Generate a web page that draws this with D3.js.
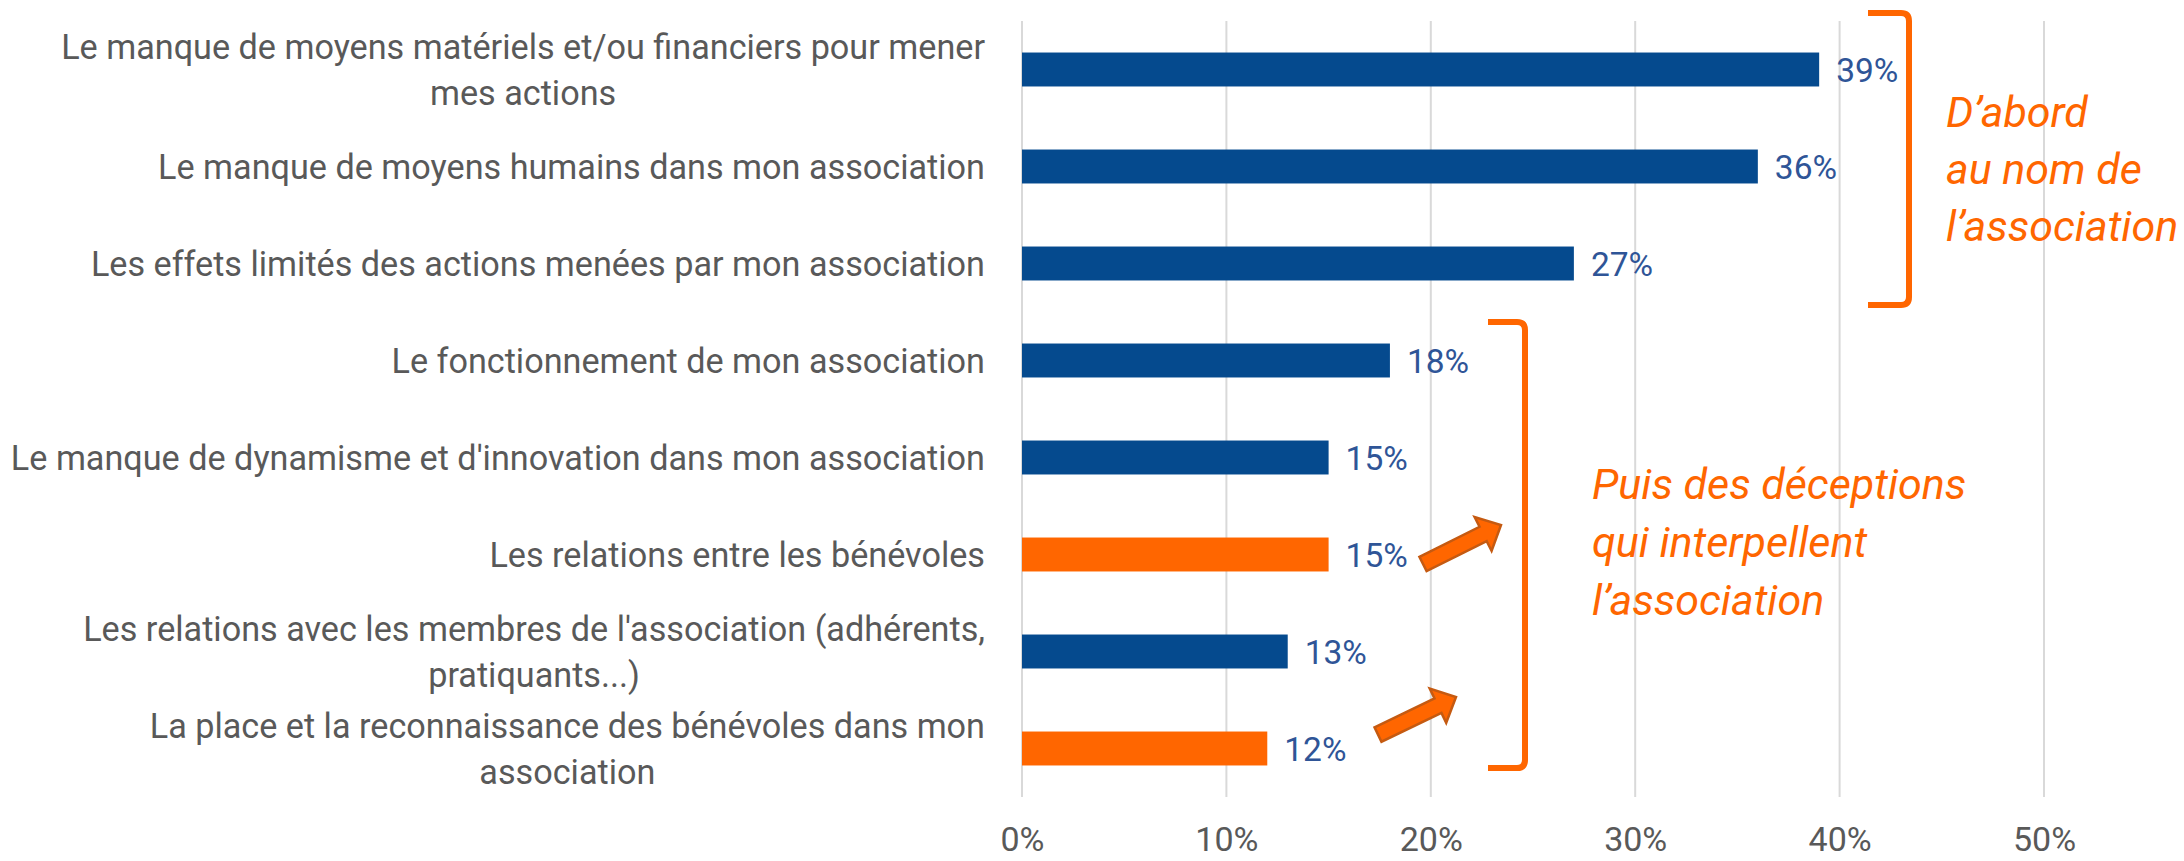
<!DOCTYPE html>
<html>
<head>
<meta charset="utf-8">
<script src="https://cdn.jsdelivr.net/npm/d3@7"></script>
<style>
  html, body { margin: 0; padding: 0; background: #fff; }
  svg { display: block; }
</style>
</head>
<body>
<svg id="chart" width="2184" height="861"></svg>
<script>
// ---------- DATA ----------
const categories = [
  "Le manque de moyens matériels et/ou financiers pour mener\nmes actions",
  "Le manque de moyens humains dans mon association",
  "Les effets limités des actions menées par mon association",
  "Le fonctionnement de mon association",
  "Le manque de dynamisme et d'innovation dans mon association",
  "Les relations entre les bénévoles",
  "Les relations avec les membres de l'association (adhérents,\npratiquants...)",
  "La place et la reconnaissance des bénévoles dans mon\nassociation"
];
const values = [0.39, 0.36, 0.27, 0.18, 0.15, 0.15, 0.13, 0.12];
const highlighted = [false, false, false, false, false, true, false, true];
const tickValues = [0, 0.1, 0.2, 0.3, 0.4, 0.5];
const tickLabels = ["0%", "10%", "20%", "30%", "40%", "50%"];
const annotation1 = ["D’abord", "au nom de", "l’association"];
const annotation2 = ["Puis des déceptions", "qui interpellent", "l’association"];

// ---------- LAYOUT / STYLE ----------
const W = 2184, H = 861;
const plot = { left: 1022, right: 2044, top: 21, bottom: 797 };
const BLUE = "#054A8E", ORANGE = "#FF6600", LABEL_BLUE = "#2F5597", GREY = "#595959";
const FONT = "Roboto, 'Open Sans', sans-serif";

const svg = d3.select("#chart");

const x = d3.scaleLinear().domain([0, 0.5]).range([plot.left, plot.right]);
const y = d3.scaleBand().domain(categories).range([plot.top, plot.bottom])
  .paddingInner(0.65).paddingOuter(0.325);

// gridlines
svg.append("g").selectAll("line").data(tickValues).join("line")
  .attr("x1", d => x(d)).attr("x2", d => x(d))
  .attr("y1", plot.top).attr("y2", plot.bottom)
  .attr("stroke", "#D9D9D9").attr("stroke-width", 2);

// x axis tick labels via d3 axis
const xAxis = d3.axisBottom(x).tickValues(tickValues)
  .tickFormat((d, i) => tickLabels[i]).tickSize(0).tickPadding(0);
const gx = svg.append("g").attr("transform", `translate(0, ${plot.bottom})`).call(xAxis);
gx.select(".domain").remove();
gx.selectAll("text")
  .attr("y", 54).attr("dy", null)
  .attr("font-family", FONT).attr("font-size", 34).attr("fill", GREY);

// bars
svg.append("g").selectAll("rect").data(categories).join("rect")
  .attr("x", x(0))
  .attr("y", d => y(d))
  .attr("width", (d, i) => x(values[i]) - x(0))
  .attr("height", y.bandwidth())
  .attr("fill", (d, i) => highlighted[i] ? ORANGE : BLUE);

// value labels
svg.append("g").selectAll("text").data(categories).join("text")
  .attr("x", (d, i) => x(values[i]) + 17)
  .attr("y", d => y(d) + y.bandwidth() / 2)
  .attr("dy", "0.36em")
  .attr("font-family", FONT).attr("font-size", 33.5).attr("fill", LABEL_BLUE)
  .text((d, i) => Math.round(values[i] * 100) + "%");

// category labels (wrapped lines centred within a right-aligned block)
const labelRight = 985, lineH = 46;
const catG = svg.append("g");
categories.forEach(c => {
  const lines = c.split("\n");
  const cy = y(c) + y.bandwidth() / 2;
  const g = catG.append("g");
  const texts = lines.map((ln, k) => g.append("text")
    .attr("font-family", FONT).attr("font-size", 34.2).attr("fill", GREY)
    .attr("y", cy + (k - (lines.length - 1) / 2) * lineH)
    .attr("dy", "0.36em")
    .text(ln));
  const widths = texts.map(t => t.node().getComputedTextLength());
  const maxW = d3.max(widths);
  texts.forEach(t => t.attr("x", labelRight - maxW / 2).attr("text-anchor", "middle"));
});

// brackets
function bracket(xv, xl, y0, y1) {
  const r = 8;
  return `M${xl},${y0} L${xv - r},${y0} Q${xv},${y0} ${xv},${y0 + r} L${xv},${y1 - r} Q${xv},${y1} ${xv - r},${y1} L${xl},${y1}`;
}
svg.append("path").attr("d", bracket(1909, 1868, 13, 305))
  .attr("fill", "none").attr("stroke", ORANGE).attr("stroke-width", 6);
svg.append("path").attr("d", bracket(1525, 1488, 322, 768))
  .attr("fill", "none").attr("stroke", ORANGE).attr("stroke-width", 6);

// annotation texts
function annot(lines, x0, y0, dy) {
  const t = svg.append("text").attr("font-family", FONT).attr("font-style", "italic")
    .attr("font-size", 43).attr("fill", ORANGE);
  lines.forEach((ln, k) => t.append("tspan").attr("x", x0).attr("y", y0 + k * dy).text(ln));
}
annot(annotation1, 1946, 127, 57);
annot(annotation2, 1592, 499, 58);

// block arrows
function blockArrow(x0, y0, x1, y1) {
  const L = Math.hypot(x1 - x0, y1 - y0);
  const a = Math.atan2(y1 - y0, x1 - x0) * 180 / Math.PI;
  const sw = 8, hw = 19, hl = 20;
  const pts = [[0, -sw], [L - hl, -sw], [L - hl, -hw], [L, 0], [L - hl, hw], [L - hl, sw], [0, sw]];
  svg.append("polygon")
    .attr("points", pts.map(p => p.join(",")).join(" "))
    .attr("transform", `translate(${x0},${y0}) rotate(${a})`)
    .attr("fill", ORANGE).attr("stroke", "#C55A11").attr("stroke-width", 2.5)
    .attr("stroke-linejoin", "miter");
}
blockArrow(1423, 564, 1501, 525);
blockArrow(1378, 734.5, 1456, 697);
</script>
</body>
</html>
